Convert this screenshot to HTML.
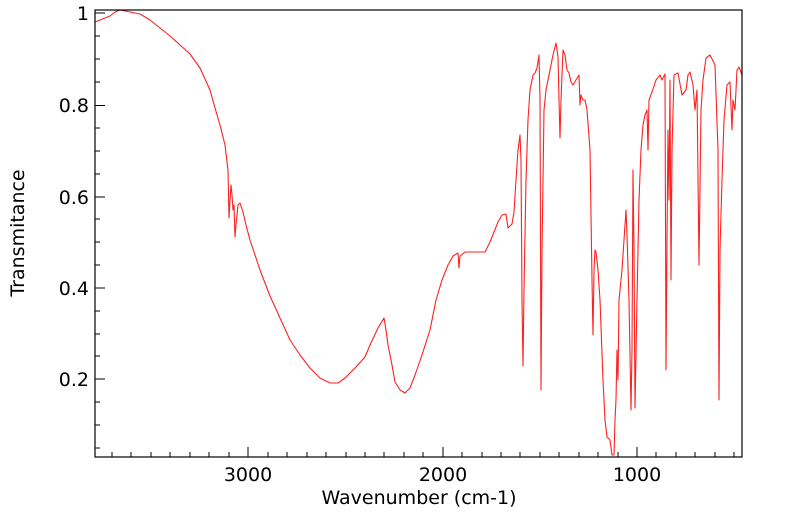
<!DOCTYPE html>
<html><head><meta charset="utf-8"><style>
html,body{margin:0;padding:0;background:#fff;}
svg{display:block;font-family:"DejaVu Sans","Liberation Sans",sans-serif;}
</style></head><body>
<svg width="799" height="516" viewBox="0 0 799 516" xmlns="http://www.w3.org/2000/svg">
<rect x="0" y="0" width="799" height="516" fill="#fff"/>
<polyline fill="none" stroke="#ff2020" stroke-width="1.1" stroke-linejoin="round" points="95,22 105,18 110,16 115,12 120,10 125,11 130,12 140,14 150,20 160,28 170,36 180,45 190,54 200,68 210,90 215,108 220,125 225,145 228,170 229,218 230,200 231,185 232,195 233,210 234,205 235,237 236,225 238,205 240,203 243,212 246,225 250,240 260,270 270,296 280,318 290,340 300,355 310,368 320,378 330,383 338,383 345,378 355,368 365,357 370,345 378,328 384,318 386,330 388,345 392,365 395,382 400,390 405,393 410,388 415,375 422,355 430,330 436,300 442,280 448,265 453,256 458,253 459,268 460,256 465,252 475,252 485,252 490,242 494,232 498,222 502,215 506,214 508,228 512,224 514,212 516,180 518,150 520,135 521,160 522,300 523,366 524,290 526,180 528,120 530,90 533,75 535,73 537,68 539,55 540,100 541,390 542,250 544,110 546,90 550,70 553,55 556,43 558,57 559,100 560,138 561,100 563,50 565,55 567,70 569,73 571,82 573,85 576,80 579,75 580,105 581,95 583,100 585,100 587,110 590,150 592,280 593,335 594,270 595,250 596,252 598,270 600,300 603,380 605,420 607,437 610,440 612,455 614,455 615,420 616,400 617,350 618,380 619,300 620,290 622,270 624,240 626,210 627,235 629,300 631,410 632,350 633,170 634,250 635,408 637,300 639,200 641,150 643,125 645,115 647,110 648,150 649,100 652,92 656,80 660,75 662,80 665,74 666,370 667,240 668,130 669,200 670,80 671,280 672,150 674,75 678,73 682,95 686,90 688,75 690,72 693,85 695,110 697,90 699,265 701,110 703,80 706,58 710,55 715,65 718,150 719,400 720,250 722,180 724,120 727,85 730,82 732,130 733,100 735,110 737,70 739,67 742,75"/>
<rect x="95" y="10" width="647" height="447" fill="none" stroke="#000" stroke-width="1.2"/>
<g stroke="#000" stroke-width="1">
<line x1="248" y1="457" x2="248" y2="447"/><line x1="443" y1="457" x2="443" y2="447"/><line x1="637" y1="457" x2="637" y2="447"/>
<line x1="112" y1="457" x2="112" y2="452"/><line x1="131" y1="457" x2="131" y2="452"/><line x1="151" y1="457" x2="151" y2="452"/><line x1="170" y1="457" x2="170" y2="452"/><line x1="190" y1="457" x2="190" y2="452"/><line x1="209" y1="457" x2="209" y2="452"/><line x1="229" y1="457" x2="229" y2="452"/>
<line x1="268" y1="457" x2="268" y2="452"/><line x1="287" y1="457" x2="287" y2="452"/><line x1="307" y1="457" x2="307" y2="452"/><line x1="326" y1="457" x2="326" y2="452"/><line x1="346" y1="457" x2="346" y2="452"/><line x1="365" y1="457" x2="365" y2="452"/><line x1="384" y1="457" x2="384" y2="452"/><line x1="404" y1="457" x2="404" y2="452"/><line x1="423" y1="457" x2="423" y2="452"/>
<line x1="462" y1="457" x2="462" y2="452"/><line x1="482" y1="457" x2="482" y2="452"/><line x1="501" y1="457" x2="501" y2="452"/><line x1="520" y1="457" x2="520" y2="452"/><line x1="540" y1="457" x2="540" y2="452"/><line x1="559" y1="457" x2="559" y2="452"/><line x1="579" y1="457" x2="579" y2="452"/><line x1="598" y1="457" x2="598" y2="452"/><line x1="618" y1="457" x2="618" y2="452"/>
<line x1="656" y1="457" x2="656" y2="452"/><line x1="676" y1="457" x2="676" y2="452"/><line x1="695" y1="457" x2="695" y2="452"/><line x1="715" y1="457" x2="715" y2="452"/><line x1="734" y1="457" x2="734" y2="452"/>
<line x1="95" y1="13" x2="105" y2="13"/><line x1="95" y1="105.5" x2="105" y2="105.5"/><line x1="95" y1="197" x2="105" y2="197"/><line x1="95" y1="288" x2="105" y2="288"/><line x1="95" y1="379" x2="105" y2="379"/>
<line x1="95" y1="36" x2="100" y2="36"/><line x1="95" y1="59" x2="100" y2="59"/><line x1="95" y1="82" x2="100" y2="82"/>
<line x1="95" y1="128" x2="100" y2="128"/><line x1="95" y1="151" x2="100" y2="151"/><line x1="95" y1="174" x2="100" y2="174"/>
<line x1="95" y1="219" x2="100" y2="219"/><line x1="95" y1="242" x2="100" y2="242"/><line x1="95" y1="265" x2="100" y2="265"/>
<line x1="95" y1="311" x2="100" y2="311"/><line x1="95" y1="334" x2="100" y2="334"/><line x1="95" y1="356" x2="100" y2="356"/>
<line x1="95" y1="402" x2="100" y2="402"/><line x1="95" y1="425" x2="100" y2="425"/><line x1="95" y1="448" x2="100" y2="448"/>
</g>
<g font-size="19" fill="#000">
<text x="89" y="20" text-anchor="end">1</text>
<text x="89" y="112" text-anchor="end">0.8</text>
<text x="89" y="204" text-anchor="end">0.6</text>
<text x="89" y="295" text-anchor="end">0.4</text>
<text x="89" y="386" text-anchor="end">0.2</text>
<text x="248" y="481" text-anchor="middle">3000</text>
<text x="443" y="481" text-anchor="middle">2000</text>
<text x="637" y="481" text-anchor="middle">1000</text>
<text x="419" y="504" text-anchor="middle">Wavenumber (cm-1)</text>
<text transform="translate(24,233) rotate(-90)" text-anchor="middle">Transmitance</text>
</g>
</svg>
</body></html>
